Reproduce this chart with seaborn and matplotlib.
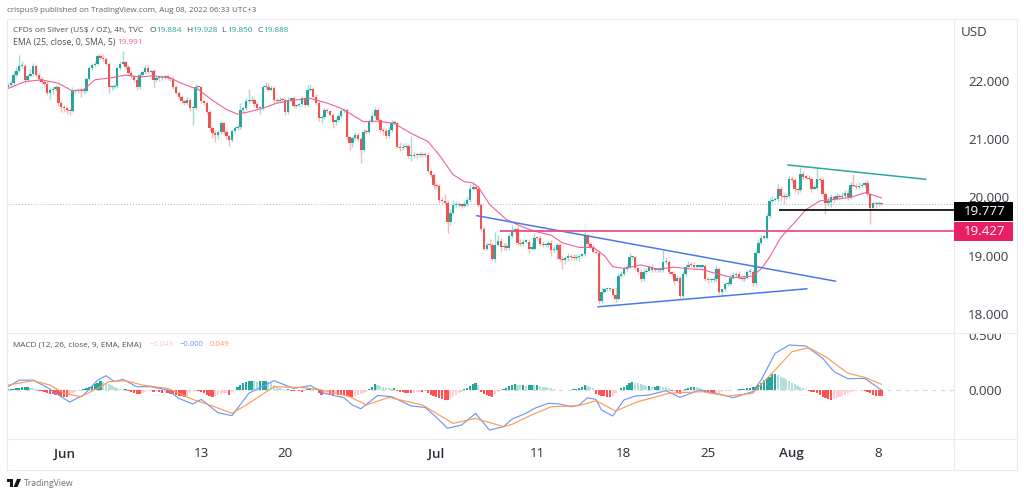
"""Silver 4h chart with EMA, trend lines and a MACD panel."""

import matplotlib
matplotlib.use("Agg")
import matplotlib.pyplot as plt
from matplotlib.patches import Polygon, Rectangle
from matplotlib.transforms import Bbox
import numpy as np
import seaborn as sns

# closing price of each 4h bar
closes = [
    21.93, 21.96, 22.10, 22.18, 22.26, 22.26, 22.02, 22.09, 22.12, 22.26,
    22.10, 22.04, 21.99, 21.95, 21.79, 21.84, 21.86, 21.89, 21.62, 21.55,
    21.53, 21.50, 21.49, 21.82, 21.83, 21.85, 21.82, 21.83, 22.03, 22.22,
    22.27, 22.30, 22.43, 22.40, 22.37, 22.30, 21.89, 21.89, 21.91, 22.22,
    22.30, 22.32, 22.24, 22.14, 22.08, 22.02, 21.89, 22.10, 22.15, 22.22,
    22.16, 22.17, 22.02, 22.05, 22.05, 22.07, 22.08, 22.05, 22.03, 21.90,
    21.80, 21.72, 21.65, 21.62, 21.67, 21.53, 21.53, 21.89, 21.89, 21.65,
    21.62, 21.47, 21.19, 21.10, 21.07, 21.12, 21.27, 21.13, 21.05, 20.99,
    21.14, 21.19, 21.21, 21.50, 21.53, 21.65, 21.66, 21.67, 21.60, 21.53,
    21.53, 21.89, 21.90, 21.85, 21.88, 21.67, 21.66, 21.68, 21.67, 21.47,
    21.68, 21.70, 21.57, 21.58, 21.60, 21.70, 21.58, 21.85, 21.87, 21.73,
    21.62, 21.36, 21.38, 21.50, 21.48, 21.42, 21.29, 21.33, 21.39, 21.48,
    21.50, 21.03, 20.93, 21.02, 21.07, 21.00, 20.81, 21.13, 21.12, 21.30,
    21.39, 21.50, 21.33, 21.16, 21.14, 21.05, 21.16, 21.27, 21.27, 20.87,
    20.85, 20.87, 20.88, 20.71, 20.71, 20.73, 20.72, 20.73, 20.72, 20.73,
    20.45, 20.38, 20.22, 20.20, 19.95, 19.93, 19.90, 19.58, 19.74, 19.87,
    19.87, 19.87, 19.86, 19.88, 19.95, 20.15, 20.18, 20.15, 19.87, 19.45,
    19.12, 19.19, 19.18, 18.95, 19.19, 19.25, 19.15, 19.16, 19.13, 19.34,
    19.42, 19.45, 19.22, 19.20, 19.24, 19.24, 19.12, 19.12, 19.31, 19.30,
    19.20, 19.18, 19.18, 19.22, 19.10, 19.10, 19.18, 18.94, 18.92, 18.96,
    19.00, 18.98, 18.96, 18.98, 19.00, 19.02, 19.34, 19.20, 19.14, 19.07,
    19.05, 18.22, 18.38, 18.42, 18.42, 18.42, 18.33, 18.26, 18.65, 18.68,
    18.77, 18.80, 18.97, 18.97, 18.78, 18.71, 18.60, 18.72, 18.74, 18.80,
    18.75, 18.75, 18.75, 18.75, 18.89, 18.89, 18.71, 18.68, 18.57, 18.62,
    18.30, 18.68, 18.80, 18.84, 18.83, 18.81, 18.81, 18.81, 18.82, 18.60,
    18.58, 18.58, 18.60, 18.77, 18.37, 18.42, 18.51, 18.51, 18.62, 18.66,
    18.68, 18.62, 18.60, 18.62, 18.71, 18.71, 18.53, 19.05, 19.22, 19.31,
    19.31, 19.68, 19.94, 19.96, 19.97, 20.15, 20.03, 20.00, 20.02, 20.31,
    20.30, 20.15, 20.13, 20.40, 20.35, 20.34, 20.31, 20.15, 20.16, 20.31,
    20.30, 20.05, 19.91, 19.92, 20.00, 19.98, 20.02, 20.00, 20.03, 20.08,
    20.00, 20.21, 20.20, 20.18, 20.20, 20.21, 20.25, 20.05, 19.82, 19.90,
    19.89, 19.89, 19.888,
]

# wick lengths above and below the body, in cents
upper_wicks = [
    4, 5, 8, 6, 18, 8, 3, 3, 8, 5, 4, 3, 3, 3, 5, 5, 3, 4, 3, 4,
    3, 3, 3, 8, 3, 3, 4, 5, 4, 4, 4, 5, 3, 3, 6, 4, 3, 4, 4, 3,
    5, 20, 3, 3, 4, 3, 4, 3, 4, 6, 5, 3, 4, 3, 4, 3, 3, 3, 3, 5,
    3, 3, 3, 3, 5, 3, 4, 5, 3, 3, 3, 3, 3, 3, 5, 3, 5, 3, 3, 3,
    3, 4, 3, 12, 4, 5, 20, 8, 3, 4, 3, 4, 8, 6, 5, 3, 3, 4, 5, 3,
    4, 3, 4, 3, 3, 5, 3, 8, 8, 3, 5, 4, 4, 5, 3, 3, 3, 3, 6, 5,
    4, 3, 3, 4, 5, 3, 4, 5, 5, 5, 8, 6, 3, 4, 3, 5, 5, 6, 6, 5,
    8, 6, 5, 3, 34, 5, 3, 5, 5, 5, 4, 4, 4, 3, 3, 5, 12, 5, 6, 8,
    6, 5, 4, 5, 6, 8, 6, 3, 3, 3, 5, 5, 10, 3, 22, 10, 6, 5, 6, 5,
    10, 3, 5, 6, 4, 4, 4, 12, 8, 3, 3, 5, 3, 3, 4, 6, 3, 3, 5, 4,
    5, 3, 5, 5, 3, 3, 7, 3, 3, 4, 3, 4, 8, 3, 3, 3, 3, 13, 5, 6,
    5, 6, 8, 3, 3, 3, 6, 6, 5, 3, 5, 3, 3, 6, 21, 8, 3, 3, 3, 5,
    3, 5, 6, 6, 5, 6, 4, 3, 3, 3, 4, 3, 5, 6, 3, 3, 4, 6, 4, 5,
    4, 5, 3, 5, 4, 8, 4, 5, 6, 4, 4, 5, 5, 6, 4, 8, 5, 4, 5, 6,
    5, 3, 3, 12, 6, 4, 5, 4, 6, 20, 6, 4, 4, 8, 6, 4, 6, 4, 6, 5,
    6, 6, 20, 5, 6, 4, 4, 5, 3, 4, 3, 4, 3,
]
lower_wicks = [
    2, 3, 4, 3, 3, 3, 8, 4, 3, 3, 3, 4, 5, 6, 3, 10, 6, 3, 5, 8,
    6, 6, 8, 3, 3, 3, 10, 4, 3, 3, 3, 3, 3, 3, 3, 3, 10, 5, 3, 3,
    3, 3, 3, 3, 3, 3, 5, 3, 3, 3, 3, 3, 12, 3, 5, 3, 3, 3, 3, 3,
    3, 3, 3, 3, 3, 5, 28, 3, 3, 3, 3, 3, 5, 8, 11, 6, 3, 6, 5, 11,
    3, 3, 3, 3, 3, 3, 3, 3, 5, 3, 10, 3, 3, 3, 3, 4, 3, 3, 3, 5,
    3, 3, 4, 3, 3, 3, 3, 3, 3, 3, 3, 4, 8, 3, 3, 3, 10, 5, 3, 3,
    3, 5, 12, 6, 3, 3, 22, 3, 3, 3, 3, 3, 3, 3, 6, 5, 3, 3, 3, 3,
    5, 3, 4, 4, 8, 3, 5, 3, 3, 3, 3, 3, 8, 4, 3, 3, 3, 20, 5, 3,
    3, 4, 5, 3, 3, 3, 3, 3, 3, 3, 3, 3, 5, 5, 6, 3, 8, 6, 3, 3,
    3, 3, 3, 3, 3, 3, 8, 3, 3, 3, 3, 3, 3, 3, 10, 3, 15, 3, 15, 6,
    6, 6, 3, 3, 8, 3, 3, 3, 3, 3, 3, 5, 3, 3, 3, 3, 3, 5, 3, 3,
    3, 3, 3, 3, 3, 3, 6, 3, 3, 3, 3, 3, 3, 3, 3, 3, 3, 3, 8, 3,
    5, 3, 3, 3, 3, 3, 3, 3, 3, 3, 5, 3, 3, 3, 3, 5, 3, 3, 3, 3,
    3, 3, 3, 3, 3, 3, 6, 3, 3, 3, 3, 3, 3, 3, 3, 3, 10, 12, 3, 3,
    3, 5, 8, 3, 3, 3, 3, 5, 3, 3, 3, 5, 20, 5, 8, 8, 3, 3, 3, 3,
    5, 3, 3, 3, 3, 3, 3, 3, 28, 3, 8, 3, 2,
]

ema_bars = [0, 6, 12, 18, 23, 27, 31, 36, 42, 47, 52, 58, 62, 68, 73, 78, 82, 86, 91, 96, 102, 108, 114, 119,
            127, 132, 138, 144, 150, 154, 159, 163, 166, 168, 172, 178, 183, 188, 194, 198, 204, 209, 213, 216,
            220, 226, 232, 238, 244, 248, 253, 259, 266, 269, 272, 276, 281, 285, 290, 296, 301, 306, 309, 312]
ema_vals = [21.87, 21.99, 22.02, 21.96, 21.83, 21.85, 22.02, 22.05, 22.10, 22.07, 22.09, 22.05, 21.96, 21.85,
            21.67, 21.51, 21.43, 21.47, 21.53, 21.62, 21.67, 21.70, 21.62, 21.53,
            21.30, 21.31, 21.27, 21.10, 20.96, 20.73, 20.39, 20.27, 20.25, 20.18, 19.88, 19.62, 19.51, 19.42,
            19.35, 19.22, 19.14, 19.14, 19.00, 18.81, 18.78, 18.84, 18.77, 18.80, 18.77, 18.76, 18.69, 18.62,
            18.65, 18.77, 18.97, 19.31, 19.57, 19.79, 19.94, 19.97, 20.00, 20.08, 20.04, 19.99]

macd_bars = [0, 4, 9, 14, 19, 22, 27, 32, 35, 38, 41, 46, 51, 57, 61, 66, 69, 75, 80, 86, 95, 102, 108, 113,
             120, 123, 126, 132, 137, 144, 149, 153, 157, 162, 167, 172, 177, 180, 185, 188, 193, 197, 201,
             204, 207, 210, 212, 216, 220, 224, 229, 235, 240, 247, 254, 259, 266, 269, 274, 279, 285, 291,
             295, 300, 306, 312]
macd_vals = [.03, .09, .09, .024, -.06, -.11, -.045, .09, .13, .076, .097, .03, .03, 0, -.076, -.127, -.085,
             -.206, -.233, -.03, .085, .015, .04, -.03, -.07, -.136, -.17, -.05, -.06, -.145, -.158, -.248,
             -.348, -.318, -.212, -.364, -.333, -.264, -.212, -.167, -.121, -.127, -.152, -.136, -.07, -.085,
             -.182, -.236, -.09, -.055, -.045, -.006, -.067, 0, -.036, -.07, -.015, .09, .333, .409, .40,
             .288, .167, .103, .106, 0]

signal_bars = [0, 9, 15, 20, 26, 32, 36, 42, 48, 57, 66, 73, 80, 86, 95, 104, 111, 122, 128, 136, 148, 154,
               159, 167, 177, 180, 187, 194, 204, 210, 217, 225, 236, 248, 257, 266, 274, 280, 286, 292, 300,
               306, 312]
signal_vals = [.045, .085, .045, -.03, -.06, .015, .076, .085, .045, .015, -.085, -.145, -.212, -.121, .03,
               .024, .006, -.06, -.136, -.067, -.136, -.227, -.303, -.258, -.333, -.312, -.227, -.152, -.142,
               -.097, -.191, -.106, -.03, -.015, -.055, -.03, .182, .348, .385, .303, .152, .115, .052]

# MACD histogram, thousandths
hist_vals = [
    9, 9, 9, 15, 21, 27, 30, 30, 18, 15, 6, -6, -9, -15, -24, -36, -36, -42, -48, -60,
    -63, -66, -45, -30, -18, -9, 3, 9, 18, 27, 39, 51, 66, 78, 75, 66, 54, 45, 30, 18,
    9, 6, 9, -6, -15, -24, -33, -39, -24, -18, -12, -9, -15, -9, -18, -24, -15, -27, -33, -39,
    -45, -51, -57, -63, -54, -30, -12, -9, -12, -15, -30, -42, -54, -66, -54, -42, -36, -30, -24, -42,
    -18, -9, 24, 42, 60, 72, 84, 84, 81, 75, 78, 84, 84, 72, 60, 48, 30, 18, 6, 0,
    6, -6, -9, -3, -12, -15, -6, 6, 9, 6, 12, -30, -42, -36, -24, -36, -42, -36, -42, -45,
    -48, -54, -60, -60, -54, -48, -36, -30, -15, 9, 30, 51, 45, 39, 30, 21, 15, 12, 18, -9,
    -15, -21, -24, -27, -27, -24, -18, -15, -15, -12, -30, -42, -54, -60, -72, -84, -90, -90, -81, -66,
    -48, -30, -18, 6, 18, 36, 54, 66, 42, -18, -36, -45, -54, -66, -36, -21, -12, 9, 21, 36,
    48, 54, 45, 42, 45, 39, 42, 45, 42, 45, 39, 30, 24, 18, 15, 6, 3, -3, -3, 3,
    3, 3, 6, 9, 15, 30, 48, 36, 24, 15, -36, -45, -51, -57, -60, -60, -54, -24, 3, 15,
    30, 48, 66, 69, 66, 60, 51, 45, 36, 36, 30, 30, 36, 33, 30, 24, 15, -9, -6, -24,
    -36, -9, 6, 15, 24, 30, 24, 15, 6, -15, -24, -30, -36, -30, -24, -18, -12, -6, -3, -3,
    3, 6, 9, 12, 15, 18, 24, 30, 45, 66, 90, 105, 120, 144, 150, 135, 120, 105, 99, 84,
    66, 54, 36, 24, 15, 6, -9, -15, -21, -30, -45, -60, -75, -84, -90, -84, -75, -66, -54, -42,
    -30, -21, -12, -6, -3, -3, -6, -15, -30, -42, -51, -54, -54,
]

# drawn trend lines as (bar, price) ends
falling_blue_bars, falling_blue_prices = [167.4, 295.6], [19.686, 18.56]
rising_blue_bars, rising_blue_prices = [210.7, 285.4], [18.12, 18.43]
green_bars, green_prices = [278.5, 327.9], [20.557, 20.311]
black_level, black_start = 19.777, 275.4
pink_level, pink_start = 19.427, 175.7
last_close = 19.888

price_ticks = [18, 19, 20, 21, 22]
macd_ticks = [0, 0.5]
date_bars = [20, 69, 99, 153, 189, 220, 250, 280, 311]
date_labels = ["Jun", "13", "20", "Jul", "11", "18", "25", "Aug", "8"]

UP, DOWN = "#26a69a", "#ef5350"
UP_WICK, DOWN_WICK = "#a5dbd6", "#f9b9b7"
PINK, BLUE, ORANGE = "#f0609a", "#6f97f5", "#ff9a52"
TEXT, FRAME = "#4a4e58", "#e9ebef"
W, H = 1024, 495

sns.set_theme(style="white")
plt.rcParams["font.family"] = ["Open Sans", "DejaVu Sans"]

fig = plt.figure(figsize=(W / 100, H / 100), dpi=100, facecolor="white")


def panel(left, top, right, bottom):
    return fig.add_axes([left / W, 1 - bottom / H, (right - left) / W, (bottom - top) / H])


def label(x, y, text, **kw):
    kw.setdefault("color", TEXT)
    kw.setdefault("fontsize", 6.2)
    return fig.text(x / W, 1 - y / H, text, va="center", **kw)


ax = panel(7, 19, 954, 333)
ax2 = panel(7, 333, 954, 439)
xlim = (-0.36, 337.9)

bars = np.arange(len(closes))
close = np.array(closes)
opens = np.r_[close[0] - 0.03, close[:-1]]
is_up = close >= opens
body_low = np.minimum(opens, close)
body_high = np.maximum(opens, close)
highs = body_high + np.array(upper_wicks) / 100
lows = body_low - np.array(lower_wicks) / 100

ax.axhline(last_close, color=UP, lw=0.7, ls=(0, (1, 2)), alpha=0.6, zorder=1)
ax.vlines(bars, lows, highs, colors=[UP_WICK if u else DOWN_WICK for u in is_up], lw=1, zorder=2)
ax.bar(bars, np.maximum(body_high - body_low, 0.02), bottom=body_low, width=0.86,
       color=[UP if u else DOWN for u in is_up], linewidth=0, zorder=3)
sns.lineplot(x=ema_bars, y=ema_vals, ax=ax, color=PINK, lw=0.8, zorder=4)

sns.lineplot(x=falling_blue_bars, y=falling_blue_prices, ax=ax, color="#4a78ee", lw=1.1, zorder=5)
sns.lineplot(x=rising_blue_bars, y=rising_blue_prices, ax=ax, color="#4a78ee", lw=1.1, zorder=5)
sns.lineplot(x=green_bars, y=green_prices, ax=ax, color="#2aa79b", lw=1.1, zorder=5)
ax.hlines(black_level, black_start, xlim[1], color="black", lw=1.2, zorder=5)
ax.hlines(pink_level, pink_start, xlim[1], color="#ea4f86", lw=1.3, zorder=5)

ax.set_xlim(xlim)
ax.set_ylim(17.67, 23.065)
ax.set_xticks([])
ax.yaxis.tick_right()
ax.set_yticks(price_ticks, [f"{p:.3f}" for p in price_ticks])
ax.tick_params(axis="y", length=0, pad=10, labelsize=9.6, labelcolor="#3a3e48")

# MACD panel
hist = np.array(hist_vals) / 1000
prev = np.r_[hist[0], hist[:-1]]
hist_colors = []
for h, p in zip(hist, prev):
    if h >= 0:
        hist_colors.append("#26a69a" if h >= p else "#b2dfdb")
    else:
        hist_colors.append("#ff5252" if h <= p else "#ffcdd2")
ax2.axhline(0, color="#d8dade", lw=0.8, ls=(0, (4, 4)), zorder=1)
ax2.bar(bars, hist, width=0.8, color=hist_colors, linewidth=0, zorder=2)
sns.lineplot(x=macd_bars, y=macd_vals, ax=ax2, color=BLUE, lw=0.85, zorder=3)
sns.lineplot(x=signal_bars, y=signal_vals, ax=ax2, color=ORANGE, lw=0.85, zorder=4)
ax2.set_xlim(xlim)
ax2.set_ylim(-0.445, 0.518)
ax2.yaxis.tick_right()
ax2.set_yticks(macd_ticks, [f"{v:.3f}" for v in macd_ticks])
ax2.tick_params(axis="y", length=0, pad=10, labelsize=9.6, labelcolor="#3a3e48")
for tick in ax2.get_yticklabels():
    tick.set_clip_on(True)
    tick.set_clip_box(Bbox([[954, H - 439], [1017, H - 334]]))
ax2.set_xticks(date_bars, date_labels)
ax2.tick_params(axis="x", length=0, pad=6, labelsize=9.6, labelcolor="#2a2e39")
for tick in ax2.get_xticklabels():
    if tick.get_text() in ("Jun", "Jul", "Aug"):
        tick.set_fontweight("semibold")

for a in (ax, ax2):
    a.set_xlabel("")
    a.set_ylabel("")
    a.patch.set_alpha(0)
    for spine in a.spines.values():
        spine.set_visible(False)

# chart frame and dividers
fig.add_artist(Rectangle((7 / W, 1 - 470 / H), 1010 / W, 451 / H, transform=fig.transFigure,
                         fill=False, ec=FRAME, lw=0.8))
for y in (333, 439):
    fig.add_artist(plt.Line2D([7 / W, 1017 / W], [1 - y / H] * 2, color=FRAME, lw=0.8))
fig.add_artist(plt.Line2D([954 / W] * 2, [1 - 19 / H, 1 - 470 / H], color=FRAME, lw=0.8))

# level tags on the price axis
for top, bottom, bg, txt in ((201.5, 220.5, "black", "19.777"), (222, 241, "#e91e63", "19.427")):
    fig.add_artist(Rectangle((954 / W, 1 - bottom / H), 59 / W, (bottom - top) / H,
                             transform=fig.transFigure, color=bg, lw=0, zorder=6))
    label(985, (top + bottom) / 2, txt, color="white", fontsize=9.6, ha="center", zorder=7)

label(961, 32, "USD", fontsize=9.6, color="#3a3e48")

# header and legend text
label(7, 11, "crispus9 published on TradingView.com, Aug 08, 2022 06:33 UTC+3", fontsize=5.8, color="#5d606b")
label(13, 30, "CFDs on Silver (US$ / OZ), 4h, TVC", fontsize=6.0)
for x, tag, val in ((150, "O", "19.884"), (186, "H", "19.928"), (221, "L", "19.850"), (257, "C", "19.888")):
    label(x, 30, tag, fontsize=6)
    label(x + 6, 30, val, fontsize=5.9, color=UP)
label(13, 42, "EMA (25, close, 0, SMA, 5)", fontsize=6.2)
label(117, 42, "19.991", fontsize=5.9, color=PINK)
label(13, 345, "MACD (12, 26, close, 9, EMA, EMA)", fontsize=5.9)
label(150, 345, "\u22120.049", fontsize=5.6, color="#f9c6c9")
label(180, 345, "\u22120.000", fontsize=5.6, color=BLUE)
label(210, 345, "0.049", fontsize=5.6, color=ORANGE)


# footer mark
def px(x, y):
    return x / W, 1 - y / H


LOGO = "#131722"
fig.add_artist(Polygon([px(7, 479), px(13, 479), px(13, 487), px(10, 487), px(10, 482), px(7, 482)],
                       closed=True, transform=fig.transFigure, color=LOGO, lw=0))
fig.add_artist(Polygon([px(17, 479), px(21, 479), px(17.5, 487), px(13.5, 487)],
                       closed=True, transform=fig.transFigure, color=LOGO, lw=0))
label(24, 483, "TradingView", fontsize=6.2, color="#6a6d78")

fig.savefig("out.png", dpi=100, facecolor="white")
